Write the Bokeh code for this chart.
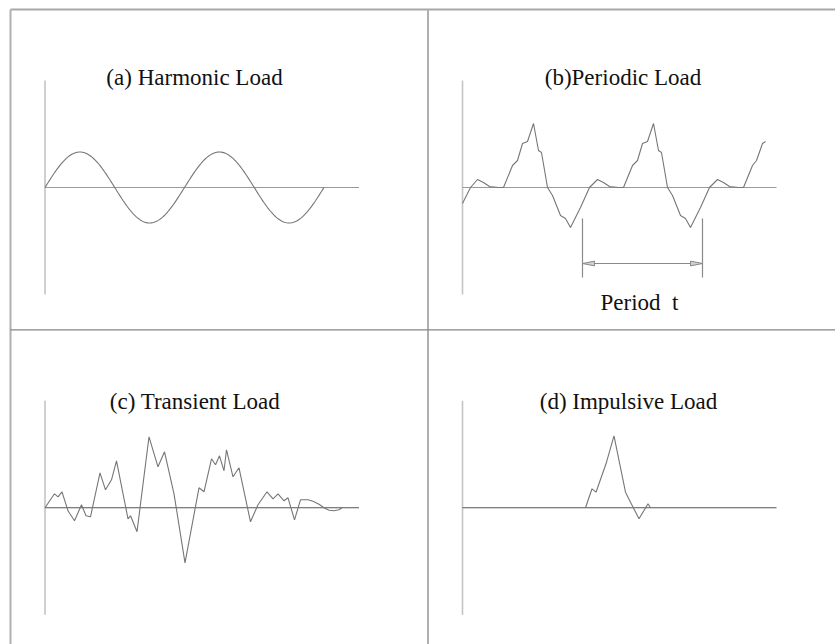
from bokeh.plotting import figure
from bokeh.models import Range1d, Label
from bokeh.embed import file_html
from bokeh.resources import INLINE
import numpy as np

# ---------------------------------------------------------------------------
# Load histories (time and load in drawing units, zero load on the time axis)
# ---------------------------------------------------------------------------

# (a) harmonic load: a pure sinusoid
harmonic_amplitude = 35.5
harmonic_period = 139.5
harmonic_cycles = 2

# (b) periodic load: three repetitions of the same irregular cycle
periodic_t = [0, 8, 15, 21, 27, 36, 41, 50, 55, 60, 65, 71, 76, 79, 85, 90, 98, 103, 108, 118,
              127, 135, 141, 147, 156, 161, 170, 175, 180, 185, 191, 196, 199, 205, 210, 218, 223, 228, 238,
              247, 255, 261, 267, 276, 281, 290, 294, 300, 303]
periodic_f = [-16, 0, 8, 5, 1, 0, 0, 22, 27, 44, 46, 64, 37, 35, 0, -8, -28, -31, -40, -20,
              0, 8, 5, 1, 0, 0, 22, 27, 44, 46, 64, 37, 35, 0, -8, -28, -31, -40, -20,
              0, 8, 5, 1, 0, 0, 22, 27, 44, 46]
period_start = 120
period_length = 120

# (c) transient load
transient_t = [0, 9.5, 13, 17, 23, 29.5, 36.5, 41, 45.5, 55, 60.5, 66.5, 71.5, 83, 85.5, 92,
               104, 113, 119.5, 129, 140, 154, 159, 166.5, 170.5, 174.5, 179, 181.5, 188, 194,
               205.5, 213, 222, 228, 233, 239, 243, 249.5, 255.5, 263, 268, 274, 279, 284, 289, 294, 297]
transient_f = [0, 14, 11, 16, -3, -13, 3, -8, -9, 35, 18, 28, 47, -11, -8, -24,
               71, 41, 56, 14, -55, 20, 16, 49, 43, 52, 37, 58, 31, 40,
               -14, 3, 16, 9, 14, 7, 10, -12, 8, 8, 6.5, 3.5, 0, -2.5, -3, -2, 0]

# (d) impulsive load
impulse_t = [123, 129.5, 133.5, 143.5, 151.5, 163, 168, 176.5, 185.5, 188]
impulse_f = [0, 19, 15.6, 44, 72, 15.6, 5.6, -11, 4, 0]

titles = ["(a) Harmonic Load", "(b)Periodic Load", "(c) Transient Load", "(d) Impulsive Load"]
period_label = "Period\u00a0 t"

# ---------------------------------------------------------------------------
# Page layout (pixels) and styling
# ---------------------------------------------------------------------------
W, H = 835, 644
origins = {"a": (44.5, 187.0), "b": (462.0, 187.0), "c": (44.5, 507.3), "d": (462.0, 507.3)}
title_pos = {"a": (149.5, 110), "b": (160.5, 110), "c": (150, 106), "d": (166, 106)}
axis_len = 314
axis_half = 107

FONT = "Liberation Serif"
WAVE = "#767676"
VAXIS = "#c4c4c4"
ZERO = {"a": "#9a9a9a", "b": "#9a9a9a", "c": "#555555", "d": "#555555"}

p = figure(width=W, height=H, output_backend="svg", toolbar_location=None, title=None,
           x_range=Range1d(0, W), y_range=Range1d(H, 0), min_border=0,
           x_axis_location=None, y_axis_location=None)
p.grid.visible = False
p.outline_line_color = None
p.background_fill_color = "white"
p.border_fill_color = "white"

# every panel gets its own time/load scale whose origin sits on the panel's axes
p.extra_x_ranges = {k + "x": Range1d(-x0, W - x0) for k, (x0, y0) in origins.items()}
p.extra_y_ranges = {k + "y": Range1d(y0 - H, y0) for k, (x0, y0) in origins.items()}

# panel frame
p.line([10, W], [9, 9], line_color="#a8a8a8", line_width=2)
p.line([10, 10], [9, H], line_color="#b0b0b0", line_width=2)
p.line([427.5, 427.5], [9, H], line_color="#b0b0b0", line_width=2)
p.line([10, W], [329.3, 329.3], line_color="#858585", line_width=1.3)


def rng(k):
    return dict(x_range_name=k + "x", y_range_name=k + "y")


for k in "abcd":
    p.line([0, 0], [-axis_half, axis_half], line_color=VAXIS, line_width=1.6, **rng(k))
    p.line([0, axis_len], [0, 0], line_color=ZERO[k], line_width=1.1, **rng(k))
    tx, ty = title_pos[k]
    p.add_layout(Label(x=tx, y=ty, text=titles["abcd".index(k)], text_font=FONT,
                       text_font_size="23px", text_color="#111111", text_align="center",
                       text_baseline="alphabetic", **rng(k)))

# (a)
t_a = np.linspace(0, harmonic_cycles * harmonic_period, 240)
p.line(t_a, harmonic_amplitude * np.sin(2 * np.pi * t_a / harmonic_period),
       line_color=WAVE, line_width=1.1, **rng("a"))

# (b)
p.line(periodic_t, periodic_f, line_color=WAVE, line_width=1.1, **rng("b"))
t0, t1 = period_start, period_start + period_length
dim_y, ext_top, ext_bot = -76, -31, -90
DIM = "#8a8a8a"
p.line([t0, t0], [ext_top, ext_bot], line_color=DIM, line_width=1.2, **rng("b"))
p.line([t1, t1], [ext_top, ext_bot], line_color=DIM, line_width=1.2, **rng("b"))
p.line([t0, t1], [dim_y, dim_y], line_color=DIM, line_width=1.2, **rng("b"))
head_len, head_w = 12, 2.4
p.patches([[t0, t0 + head_len, t0 + head_len], [t1, t1 - head_len, t1 - head_len]],
          [[dim_y, dim_y + head_w, dim_y - head_w], [dim_y, dim_y + head_w, dim_y - head_w]],
          fill_color="#d0d0d0", line_color=DIM, line_width=1, **rng("b"))
p.add_layout(Label(x=(t0 + t1) / 2 - 3, y=-114.7, text=period_label, text_font=FONT,
                   text_font_size="23px", text_color="#111111", text_align="center",
                   text_baseline="alphabetic", **rng("b")))

# (c)
p.line(transient_t, transient_f, line_color=WAVE, line_width=1.1, **rng("c"))

# (d)
p.line(impulse_t, impulse_f, line_color=WAVE, line_width=1.1, **rng("d"))

open("out.html", "w").write(file_html(p, INLINE))
